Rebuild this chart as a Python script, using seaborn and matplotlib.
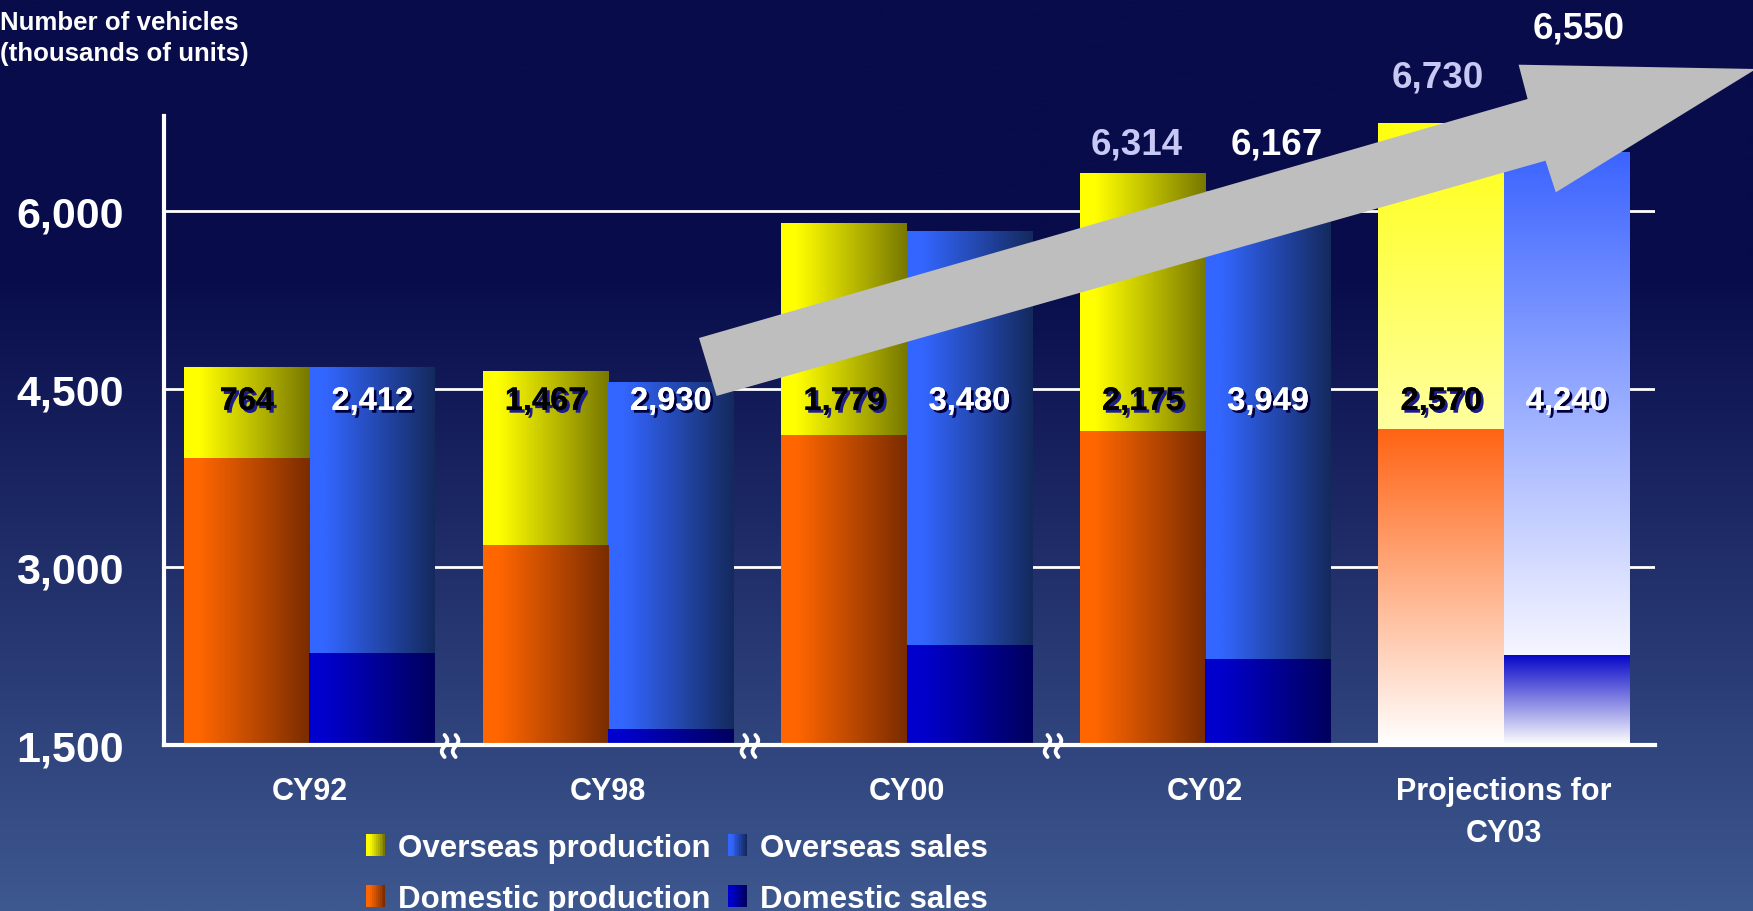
import numpy as np
import pandas as pd
import matplotlib
matplotlib.use("Agg")
import matplotlib.pyplot as plt
import seaborn as sns
from matplotlib.patches import Polygon, Rectangle, Patch
from matplotlib.legend_handler import HandlerBase
from matplotlib.transforms import ScaledTranslation
import matplotlib.patheffects as pe
from matplotlib.colors import to_rgb

# ---------------- data ----------------
categories = ["CY92", "CY98", "CY00", "CY02", "Projections for\nCY03"]
domestic_production = [3915, 3180, 4110, 4139, 4160]
overseas_production = [764, 1467, 1779, 2175, 2570]
domestic_sales = [2270, 1630, 2340, 2218, 2250]
overseas_sales = [2412, 2930, 3480, 3949, 4240]
total_production = [None, None, None, 6314, 6730]
total_sales = [None, None, None, 6167, 6550]
y_ticks = [1500, 3000, 4500, 6000]
legend_labels = ["Overseas production", "Domestic production",
                 "Overseas sales", "Domestic sales"]
y_title = "Number of vehicles\n(thousands of units)"

# ---------------- style ----------------
sns.set_theme(style="white")
plt.rcParams["font.family"] = ["Liberation Sans", "DejaVu Sans"]

W, H = 1753, 912
fig = plt.figure(figsize=(W / 100, H / 100), dpi=100)

# background gradient
bg = fig.add_axes([0, 0, 1, 1], zorder=-10)
top_c = np.array(to_rgb("#080C4A"))
bot_c = np.array(to_rgb("#3E5890"))
yy = np.linspace(0, 1, 400)
t = np.clip((yy - 0.30) / 0.70, 0, 1)[:, None]
grad = (top_c * (1 - t) + bot_c * t)[:, None, :]
bg.imshow(grad, aspect="auto", extent=[0, 1, 0, 1], origin="upper")
bg.set_axis_off()

ax = fig.add_axes([164 / W, 1 - 746 / H, (1655 - 164) / W, (746 - 117) / H])
ax.patch.set_alpha(0)

df = pd.DataFrame({
    "category": categories * 2,
    "kind": ["Production"] * 5 + ["Sales"] * 5,
    "total": [a + b for a, b in zip(domestic_production, overseas_production)]
             + [a + b for a, b in zip(domestic_sales, overseas_sales)],
    "domestic": domestic_production + domestic_sales,
})

sns.barplot(data=df, x="category", y="total", hue="kind", order=categories,
            hue_order=["Production", "Sales"], width=0.84, errorbar=None,
            legend=False, ax=ax)
n1 = len(ax.patches)
sns.barplot(data=df, x="category", y="domestic", hue="kind", order=categories,
            hue_order=["Production", "Sales"], width=0.84, errorbar=None,
            legend=False, ax=ax)
total_patches = ax.patches[:n1]
dom_patches = ax.patches[n1:]

YMIN, YMAX = 1500, 6800
XMIN, XMAX = -0.487, 4.506


def key(p):
    cx = p.get_x() + p.get_width() / 2
    i = int(round(cx))
    return i, (0 if cx < i else 1), cx


def hgrad(c0, c1, n=96, plateau=0.12):
    c0, c1 = np.array(to_rgb(c0)), np.array(to_rgb(c1))
    tt = np.clip((np.linspace(0, 1, n) - plateau) / (1 - plateau), 0, 1)[:, None]
    return (c0 * (1 - tt) + c1 * tt)[None, :, :]


def vgrad(ctop, cbot, n=128):
    c0, c1 = np.array(to_rgb(ctop)), np.array(to_rgb(cbot))
    tt = np.linspace(0, 1, n)[:, None]
    return (c0 * (1 - tt) + c1 * tt)[:, None, :]


h_cols = {("over", 0): ("#FFFF00", "#787800"), ("dom", 0): ("#FF6600", "#7A2C00"),
          ("over", 1): ("#3366FF", "#142A5E"), ("dom", 1): ("#0000CC", "#00005E")}
v_cols = {("over", 0): ("#FFFF10", "#FFFFA0"), ("dom", 0): ("#FF6414", "#FFFFFF"),
          ("over", 1): ("#3C64FF", "#F6F6FF"), ("dom", 1): ("#0808C8", "#FFFFFF")}

dom_map = {}
for p in dom_patches:
    i, k, cx = key(p)
    dom_map[(i, k)] = p

centers = {}
for seg, plist, z in (("over", total_patches, 2), ("dom", dom_patches, 3)):
    for p in plist:
        i, k, cx = key(p)
        centers[(i, k)] = cx
        x0, w, top = p.get_x(), p.get_width(), p.get_height()
        bottom = dom_map[(i, k)].get_height() if seg == "over" else p.get_y()
        bottom = max(bottom, YMIN)
        if i == 4:
            arr = vgrad(*v_cols[(seg, k)])
        else:
            arr = hgrad(*h_cols[(seg, k)])
        ax.imshow(arr, extent=[x0, x0 + w, bottom, top], aspect="auto",
                  origin="upper", interpolation="bilinear", zorder=z)
        p.set_facecolor("none")
        p.set_edgecolor("none")

ax.set_xlim(XMIN, XMAX)
ax.set_ylim(YMIN, YMAX)

# grid / spines / ticks
ax.set_axisbelow(True)
ax.yaxis.grid(True, color="white", lw=2)
ax.xaxis.grid(False)
for s in ("top", "right"):
    ax.spines[s].set_visible(False)
for s in ("left", "bottom"):
    ax.spines[s].set_color("white")
    ax.spines[s].set_linewidth(3)
    ax.spines[s].set_zorder(4)

ax.set_yticks(y_ticks, labels=[f"{v:,}" for v in y_ticks])
for lab in ax.get_yticklabels():
    lab.set_fontsize(31)
    lab.set_fontweight("bold")
    lab.set_color("white")
ax.tick_params(axis="y", colors="white", direction="inout", length=10,
               width=2.5, pad=24)

ax.set_xticks(range(len(categories)), labels=categories)
for lab in ax.get_xticklabels():
    lab.set_fontsize(22)
    lab.set_fontweight("bold")
    lab.set_color("white")
    lab.set_linespacing(1.55)
ax.tick_params(axis="x", which="major", length=0, pad=22)
ax.set_xticks([3.5, XMAX - 0.004], minor=True)
ax.tick_params(axis="x", which="minor", direction="in", length=11, width=3,
               color="white")
ax.set_xlabel("")
ax.set_ylabel("")

# axis break marks (decoration)
s = np.linspace(-1, 1, 40)
for bx in (0.471, 1.475, 2.49):
    tr = fig.dpi_scale_trans + ScaledTranslation(bx, YMIN, ax.transData)
    for dx in (-0.055, 0.055):
        ax.plot(dx - 0.028 * np.sin(np.pi * s), -0.01 - 0.11 * s, color="white",
                lw=2.8, transform=tr, clip_on=False, zorder=6,
                solid_capstyle="round")

# values inside bars
for i in range(len(categories)):
    for k, vals in ((0, overseas_production), (1, overseas_sales)):
        txt_col = "black" if k == 0 else "white"
        sh_col = "#1C1C8C" if k == 0 else "#000040"
        ax.text(centers[(i, k)], 4395, f"{vals[i]:,}", ha="center",
                va="center", fontsize=23.5, fontweight="bold", color=txt_col,
                zorder=7,
                path_effects=[pe.withSimplePatchShadow(offset=(2, -2),
                                                       shadow_rgbFace=sh_col,
                                                       alpha=1),
                              pe.Normal()])

# totals above bars
total_pos = {(3, 0): (-0.02, 6565), (3, 1): (0.03, 6565),
             (4, 0): (-0.01, 7130), (4, 1): (0.04, 7545)}
for i in range(len(categories)):
    for k, tots in ((0, total_production), (1, total_sales)):
        if tots[i] is None:
            continue
        dx, ty = total_pos[(i, k)]
        ax.text(centers[(i, k)] + dx, ty, f"{tots[i]:,}",
                ha="center", va="center", fontsize=26.5, fontweight="bold",
                color="#C8C8F5" if k == 0 else "white", clip_on=False,
                zorder=7)

# big grey arrow (decoration)
arrow_px = [(699, 339), (1527.6, 100), (1518.6, 65.7), (1756, 70),
            (1555.8, 193.3), (1545.5, 161.7), (716.6, 396.9)]
arrow = Polygon([(x / W, 1 - y / H) for x, y in arrow_px], closed=True,
                facecolor="#BEBEBE", edgecolor="none",
                transform=fig.transFigure, zorder=5, clip_on=False)
ax.add_artist(arrow)


# legend with gradient swatches
class GradHandler(HandlerBase):
    def __init__(self, c0, c1):
        super().__init__()
        self.c0, self.c1 = np.array(to_rgb(c0)), np.array(to_rgb(c1))

    def create_artists(self, legend, orig_handle, xdescent, ydescent, width,
                       height, fontsize, trans):
        n = 10
        arts = []
        for j in range(n):
            tt = max(0.0, (j / (n - 1) - 0.15) / 0.85)
            col = self.c0 * (1 - tt) + self.c1 * tt
            arts.append(Rectangle((-xdescent + j * width / n, -ydescent),
                                  width / n * 1.05, height, facecolor=col,
                                  edgecolor="none", transform=trans))
        return arts


handles = [Patch(label=l) for l in legend_labels]
hmap = {handles[0]: GradHandler(*h_cols[("over", 0)]),
        handles[1]: GradHandler(*h_cols[("dom", 0)]),
        handles[2]: GradHandler(*h_cols[("over", 1)]),
        handles[3]: GradHandler(*h_cols[("dom", 1)])}
ax.legend(handles, legend_labels, handler_map=hmap, ncol=2, loc="upper left",
          bbox_to_anchor=(366 / W, 1 - 834 / H), bbox_transform=fig.transFigure,
          frameon=False, prop=dict(weight="bold", size=22.5), labelcolor="white",
          handlelength=0.62, handleheight=0.7, handletextpad=0.4,
          columnspacing=0.55, labelspacing=0.66, borderpad=0, borderaxespad=0)

fig.text(0, 1 - 11 / H, y_title, ha="left", va="top", fontsize=18.6,
         fontweight="bold", color="white", linespacing=1.38)

fig.savefig("out.png", dpi=100)
